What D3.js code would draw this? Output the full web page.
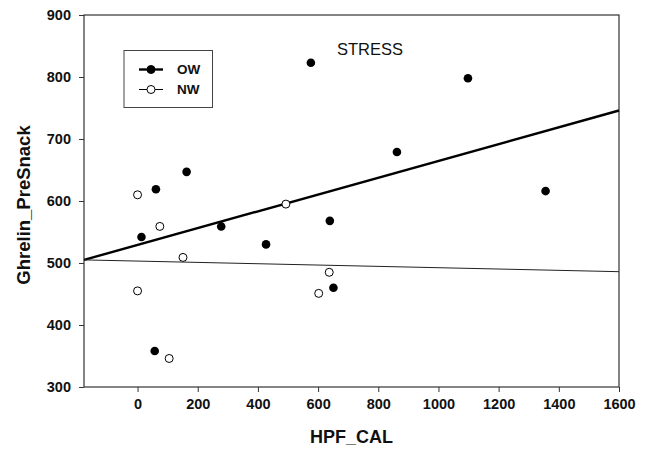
<!DOCTYPE html>
<html>
<head>
<meta charset="utf-8">
<script src="https://cdn.jsdelivr.net/npm/d3@7"></script>
<style>
    body { margin: 0; background: #fff; }
    svg text { font-family: Arial, "Liberation Sans", sans-serif; }
</style>
</head>
<body>
<div id="chart"></div>
<script>
// OW (filled) points: HPF_CAL, Ghrelin_PreSnack
var owX = [13, 57, 61, 163, 278, 427, 576, 639, 651, 862, 1098, 1356];
var owY = [542, 358, 619, 647, 559, 530, 823, 568, 460, 679, 798, 616];

// NW (open) points
var nwX = [0, 0, 74, 105, 151, 493, 602, 637];
var nwY = [610, 455, 559, 346, 509, 595, 451, 485];

// fitted lines: [value at left edge, value at right edge]
var owFit = [505, 746];
var nwFit = [505, 486];

var xTicks = [0, 200, 400, 600, 800, 1000, 1200, 1400, 1600];
var yTicks = [300, 400, 500, 600, 700, 800, 900];
var xDomain = [-178, 1600];
var yDomain = [300, 900];

function drawChart() {
    var width = 651;
    var height = 452;
    var margin = {left: 84, right: 32, top: 15, bottom: 65};

    var svg = d3.select("#chart").append("svg")
        .attr("width", width)
        .attr("height", height);

    var x = d3.scaleLinear().domain(xDomain).range([margin.left, width - margin.right]);
    var y = d3.scaleLinear().domain(yDomain).range([height - margin.bottom, margin.top]);

    //Frame
    svg.append("rect")
        .attr("x", x.range()[0])
        .attr("y", y.range()[1])
        .attr("width", x.range()[1] - x.range()[0])
        .attr("height", y.range()[0] - y.range()[1])
        .attr("fill", "none")
        .attr("stroke", "#333")
        .attr("stroke-width", 1.2);

    //Axes
    var xAxis = svg.append("g")
        .attr("transform", "translate(0," + y.range()[0] + ")")
        .call(d3.axisBottom(x).tickValues(xTicks).tickFormat(d3.format("d"))
            .tickSize(5).tickPadding(8).tickSizeOuter(0));

    var yAxis = svg.append("g")
        .attr("transform", "translate(" + x.range()[0] + ",0)")
        .call(d3.axisLeft(y).tickValues(yTicks).tickFormat(d3.format("d"))
            .tickSize(5).tickPadding(8).tickSizeOuter(0));

    [xAxis, yAxis].forEach(function (g) {
        g.select(".domain").remove();
        g.selectAll("line").attr("stroke", "#333");
        g.selectAll("text")
            .attr("fill", "#111")
            .style("font-size", "14.5px")
            .style("font-weight", "bold");
    });
    xAxis.selectAll("text").attr("dy", "0.6em");

    //Axis titles
    svg.append("text")
        .attr("x", (x.range()[0] + x.range()[1]) / 2)
        .attr("y", 443)
        .attr("text-anchor", "middle")
        .style("font-size", "18px")
        .style("font-weight", "bold")
        .attr("fill", "#111")
        .text("HPF_CAL");

    svg.append("text")
        .attr("transform", "translate(30,205) rotate(-90)")
        .attr("text-anchor", "middle")
        .style("font-size", "18.5px")
        .style("font-weight", "bold")
        .attr("fill", "#111")
        .text("Ghrelin_PreSnack");

    //Regression lines
    svg.append("line")
        .attr("x1", x(xDomain[0])).attr("y1", y(owFit[0]))
        .attr("x2", x(xDomain[1])).attr("y2", y(owFit[1]))
        .attr("stroke", "#000")
        .attr("stroke-width", 2.4);

    svg.append("line")
        .attr("x1", x(xDomain[0])).attr("y1", y(nwFit[0]))
        .attr("x2", x(xDomain[1])).attr("y2", y(nwFit[1]))
        .attr("stroke", "#222")
        .attr("stroke-width", 1);

    //Points
    svg.selectAll("circle.ow")
        .data(d3.zip(owX, owY))
        .enter()
        .append("circle")
        .attr("class", "ow")
        .attr("cx", function (d) { return x(d[0]); })
        .attr("cy", function (d) { return y(d[1]); })
        .attr("r", 4.3)
        .attr("fill", "#000");

    svg.selectAll("circle.nw")
        .data(d3.zip(nwX, nwY))
        .enter()
        .append("circle")
        .attr("class", "nw")
        .attr("cx", function (d) { return x(d[0]); })
        .attr("cy", function (d) { return y(d[1]); })
        .attr("r", 4)
        .attr("fill", "#fff")
        .attr("stroke", "#000")
        .attr("stroke-width", 1);

    //Annotation
    svg.append("text")
        .attr("x", 337)
        .attr("y", 55)
        .style("font-size", "16.5px")
        .attr("fill", "#111")
        .text("STRESS");

    //Legend
    var legend = svg.append("g");
    legend.append("rect")
        .attr("x", 124).attr("y", 50.5)
        .attr("width", 88.5).attr("height", 57)
        .attr("fill", "#fff")
        .attr("stroke", "#444")
        .attr("stroke-width", 1);

    var rows = [
        {label: "OW", y: 69.5, fill: "#000", lw: 2.4},
        {label: "NW", y: 89.5, fill: "#fff", lw: 1}
    ];
    rows.forEach(function (r) {
        legend.append("line")
            .attr("x1", 139).attr("x2", 163)
            .attr("y1", r.y).attr("y2", r.y)
            .attr("stroke", "#000")
            .attr("stroke-width", r.lw);
        legend.append("circle")
            .attr("cx", 151).attr("cy", r.y)
            .attr("r", 4)
            .attr("fill", r.fill)
            .attr("stroke", "#000")
            .attr("stroke-width", 1);
        legend.append("text")
            .attr("x", 177).attr("y", r.y)
            .attr("dy", "0.36em")
            .style("font-size", "13.5px")
            .style("font-weight", "bold")
            .attr("fill", "#111")
            .text(r.label);
    });
}

drawChart();
</script>
</body>
</html>
